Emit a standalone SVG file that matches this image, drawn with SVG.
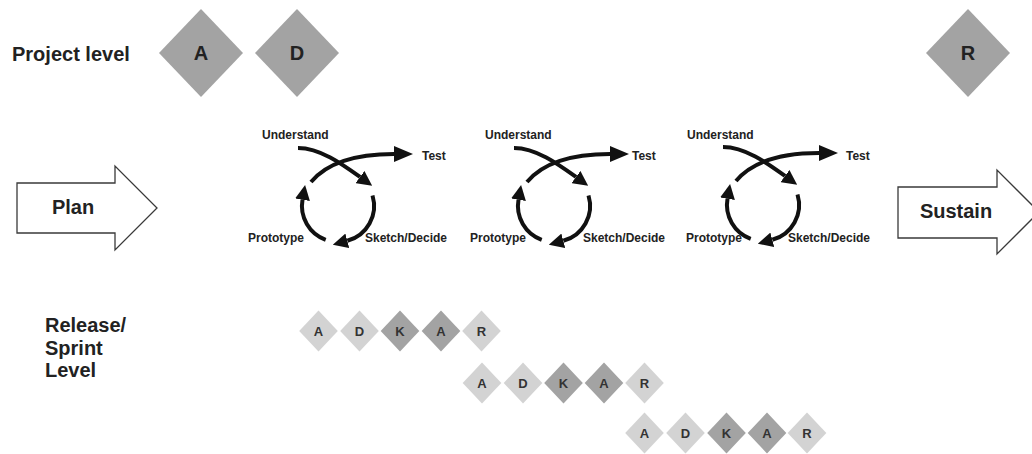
<svg xmlns="http://www.w3.org/2000/svg" width="1032" height="454" viewBox="0 0 1032 454">
  <style>
    .lbl { font-family: "Liberation Sans", Arial, sans-serif; font-weight: bold; fill: #222; }
    .big { font-size: 20px; }
    .cyc { font-size: 12px; }
    .pd { fill: #a3a3a3; }
    .lt { fill: #d3d3d3; }
    .dk { fill: #a3a3a3; }
    .dl { font-size: 20px; text-anchor: middle; }
    .sl { font-size: 13px; text-anchor: middle; fill: #333; }
    .block { fill: #fff; stroke: #3a3a3a; stroke-width: 1.3; }
    .loop { fill: none; stroke: #111; stroke-width: 4; }
  </style>
  <defs>
    <marker id="head" markerUnits="userSpaceOnUse" markerWidth="15" markerHeight="15" refX="0" refY="7.5" orient="auto">
      <path d="M0,0 L15,7.5 L0,15 z" fill="#111"/>
    </marker>
    <marker id="headBig" markerUnits="userSpaceOnUse" markerWidth="19" markerHeight="16" refX="0" refY="8" orient="auto">
      <path d="M0,0 L19,8 L0,16 z" fill="#111"/>
    </marker>
    <!-- one design-sprint loop, centred on (0,0) -->
    <g id="loop">
      <path class="loop" d="M-40,-58 C-18,-58 4,-42 22,-29" marker-end="url(#head)"/>
      <path class="loop" d="M-27,-24 C-12,-42 15,-52 56,-52" marker-end="url(#headBig)"/>
      <path class="loop" d="M34.5,-10.5 A36,36 0 0 1 9.3,34.8" marker-end="url(#head)"/>
      <path class="loop" d="M-12.3,33.8 A36,36 0 0 1 -35.5,-6.3" marker-end="url(#head)"/>
    </g>
    <!-- ADKAR tile shape -->
    <polygon id="tile" points="0,-20.5 19.3,0 0,20.5 -19.3,0"/>
  </defs>
  <rect width="1032" height="454" fill="#fff"/>

  <!-- project level -->
  <g id="project-label"><text class="lbl big" x="12" y="61">Project level</text></g>
  <g id="proj-A">
    <polygon class="pd" points="201,9 243,53 201,97 159,53"/>
    <text class="lbl dl" x="201" y="60">A</text>
  </g>
  <g id="proj-D">
    <polygon class="pd" points="297,9 339,53 297,97 255,53"/>
    <text class="lbl dl" x="297" y="60">D</text>
  </g>
  <g id="proj-R">
    <polygon class="pd" points="968,9 1010,53 968,97 926,53"/>
    <text class="lbl dl" x="968" y="60">R</text>
  </g>

  <!-- plan / sustain blocks -->
  <g id="plan">
    <polygon class="block" points="17,183 115,183 115,166 157,208 115,250 115,233 17,233"/>
    <text class="lbl big" x="73" y="214" text-anchor="middle">Plan</text>
  </g>
  <g id="sustain">
    <polygon class="block" points="898,187 997,187 997,170 1039,212 997,254 997,238 898,238"/>
    <text class="lbl big" x="956" y="218" text-anchor="middle">Sustain</text>
  </g>

  <!-- sprint loop labels -->
  <g id="sprint-1">
    <text class="lbl cyc" x="262" y="139">Understand</text>
    <text class="lbl cyc" x="422" y="160">Test</text>
    <text class="lbl cyc" x="248" y="242">Prototype</text>
    <text class="lbl cyc" x="365" y="242">Sketch/Decide</text>
  </g>
  <g id="sprint-2">
    <text class="lbl cyc" x="485" y="139">Understand</text>
    <text class="lbl cyc" x="632" y="160">Test</text>
    <text class="lbl cyc" x="470" y="242">Prototype</text>
    <text class="lbl cyc" x="583" y="242">Sketch/Decide</text>
  </g>
  <g id="sprint-3">
    <text class="lbl cyc" x="687" y="139">Understand</text>
    <text class="lbl cyc" x="846" y="160">Test</text>
    <text class="lbl cyc" x="686" y="242">Prototype</text>
    <text class="lbl cyc" x="788" y="242">Sketch/Decide</text>
  </g>

  <g id="connectors">
    <use href="#loop" transform="translate(338,206)"/>
    <use href="#loop" transform="translate(554,206)"/>
    <use href="#loop" transform="translate(763,205)"/>
  </g>

  <!-- release / sprint level -->
  <g id="release-label">
    <text class="lbl big" x="45" y="332">Release/</text>
    <text class="lbl big" x="45" y="355">Sprint</text>
    <text class="lbl big" x="45" y="377">Level</text>
  </g>
  <g id="release-1">
    <use href="#tile" class="lt" x="318.5" y="331"/>
    <text class="lbl sl" x="318.5" y="335.7">A</text>
    <use href="#tile" class="lt" x="359.5" y="331"/>
    <text class="lbl sl" x="359.5" y="335.7">D</text>
    <use href="#tile" class="dk" x="400" y="331"/>
    <text class="lbl sl" x="400" y="335.7">K</text>
    <use href="#tile" class="dk" x="441" y="331"/>
    <text class="lbl sl" x="441" y="335.7">A</text>
    <use href="#tile" class="lt" x="481.5" y="331"/>
    <text class="lbl sl" x="481.5" y="335.7">R</text>
  </g>
  <g id="release-2">
    <use href="#tile" class="lt" x="482" y="383"/>
    <text class="lbl sl" x="482" y="387.7">A</text>
    <use href="#tile" class="lt" x="523" y="383"/>
    <text class="lbl sl" x="523" y="387.7">D</text>
    <use href="#tile" class="dk" x="563.5" y="383"/>
    <text class="lbl sl" x="563.5" y="387.7">K</text>
    <use href="#tile" class="dk" x="604" y="383"/>
    <text class="lbl sl" x="604" y="387.7">A</text>
    <use href="#tile" class="lt" x="644.5" y="383"/>
    <text class="lbl sl" x="644.5" y="387.7">R</text>
  </g>
  <g id="release-3">
    <use href="#tile" class="lt" x="644.5" y="433"/>
    <text class="lbl sl" x="644.5" y="437.7">A</text>
    <use href="#tile" class="lt" x="685.5" y="433"/>
    <text class="lbl sl" x="685.5" y="437.7">D</text>
    <use href="#tile" class="dk" x="726.5" y="433"/>
    <text class="lbl sl" x="726.5" y="437.7">K</text>
    <use href="#tile" class="dk" x="767" y="433"/>
    <text class="lbl sl" x="767" y="437.7">A</text>
    <use href="#tile" class="lt" x="807" y="433"/>
    <text class="lbl sl" x="807" y="437.7">R</text>
  </g>
</svg>
